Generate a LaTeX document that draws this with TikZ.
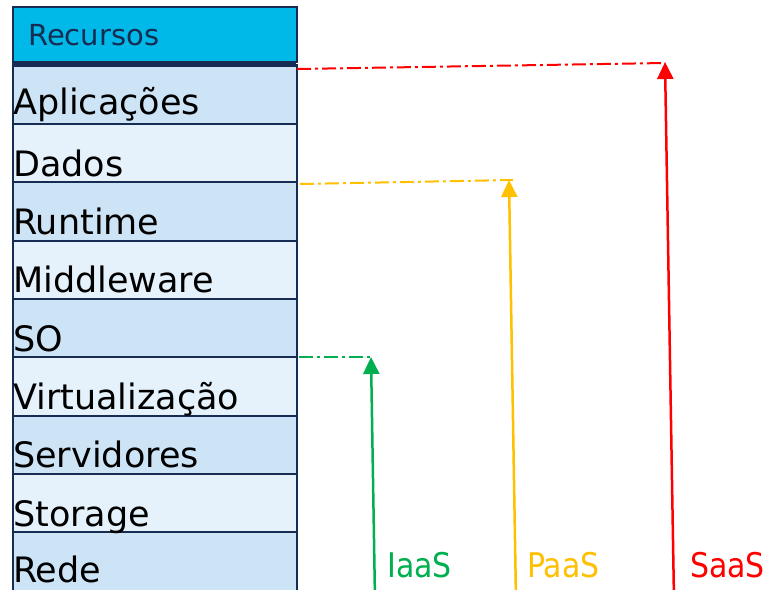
\documentclass[tikz,border=0pt]{standalone}
\usepackage{fontspec}
\setmainfont{DejaVu Sans}
\newfontfamily\labfont[FakeStretch=0.88]{DejaVu Sans}
\usetikzlibrary{arrows.meta}
\definecolor{navy}{RGB}{22,44,82}
\definecolor{hdr}{RGB}{0,185,232}
\definecolor{rowA}{RGB}{204,228,246}
\definecolor{rowB}{RGB}{229,242,251}
\definecolor{cgreen}{RGB}{0,176,80}
\definecolor{cyellow}{RGB}{255,192,0}
\definecolor{cred}{RGB}{255,0,0}
\tikzset{
  rowbox/.style={draw=navy, line width=2pt, minimum width=284pt, minimum height=58.3pt, inner sep=0pt, anchor=north west},
  rowtxt/.style={anchor=base west, inner sep=0pt, font=\fontsize{35}{40}\selectfont, text=black},
  guide/.style={line width=2pt, dash pattern=on 14pt off 4pt on 3pt off 4pt},
  upar/.style={line width=2.5pt, -{Triangle[length=17pt,width=16pt]}},
  lab/.style={anchor=base west, inner sep=0pt, font=\labfont\fontsize{34}{40}\selectfont},
}
\begin{document}
\begin{tikzpicture}[x=1pt,y=-1pt]
\useasboundingbox (0,0) rectangle (765,589);
\fill[white] (0,0) rectangle (765,589);
% header
\node[rowbox, fill=hdr, minimum height=55pt] (hd) at (12,6) {};
\node[anchor=base west, inner sep=0pt, font=\fontsize{29}{34}\selectfont, text=navy] (hdt) at (28,45) {Recursos};
% rows
\node[rowbox, fill=rowA, minimum height=59pt] (r1) at (12,64) {};
\node[rowbox, fill=rowB] (r2) at (12,123) {};
\node[rowbox, fill=rowA] (r3) at (12,181.3) {};
\node[rowbox, fill=rowB] (r4) at (12,239.6) {};
\node[rowbox, fill=rowA] (r5) at (12,297.9) {};
\node[rowbox, fill=rowB] (r6) at (12,356.2) {};
\node[rowbox, fill=rowA] (r7) at (12,414.5) {};
\node[rowbox, fill=rowB] (r8) at (12,472.8) {};
\node[rowbox, fill=rowA, minimum height=70pt] (r9) at (12,531.1) {};
% dark bar
\node[fill=navy, minimum width=284pt, minimum height=6pt, inner sep=0pt, anchor=north west] (bar) at (12,61) {};
% row texts
\node[rowtxt] (t1) at ([shift={(1,-11)}]r1.south west) {Aplicações};
\node[rowtxt] (t2) at ([shift={(1,-7)}]r2.south west) {Dados};
\node[rowtxt] (t3) at ([shift={(1,-7)}]r3.south west) {Runtime};
\node[rowtxt] (t4) at ([shift={(1,-7)}]r4.south west) {Middleware};
\node[rowtxt] (t5) at ([shift={(1,-7)}]r5.south west) {SO};
\node[rowtxt] (t6) at ([shift={(1,-7)}]r6.south west) {Virtualização};
\node[rowtxt] (t7) at ([shift={(1,-7)}]r7.south west) {Servidores};
\node[rowtxt] (t8) at ([shift={(1,-7)}]r8.south west) {Storage};
\node[rowtxt] (t9) at (13,582) {Rede};
% guide coordinates
\coordinate (gS) at (297,69);
\coordinate (gSe) at (665,63);
\coordinate (gP) at (300,184);
\coordinate (gPe) at (513,180);
\coordinate (gI) at (299,357);
\coordinate (gIe) at (371,357);
\coordinate (bS) at (674,600);
\coordinate (tS) at (665,62);
\coordinate (bP) at (516,600);
\coordinate (tP) at (509,180);
\coordinate (bI) at (375,600);
\coordinate (tI) at (371,357);
\draw[guide, cred] (gS) -- (gSe);
\draw[guide, cyellow] (gP) -- (gPe);
\draw[guide, cgreen] (gI) -- (gIe);
\draw[upar, cred] (bS) -- (tS);
\draw[upar, cyellow] (bP) -- (tP);
\draw[upar, cgreen] (bI) -- (tI);
% labels
\node[lab, text=cgreen] (li) at (387,577) {IaaS};
\node[lab, text=cyellow] (lp) at (527,577) {PaaS};
\node[lab, text=cred] (ls) at (690,577) {SaaS};
\end{tikzpicture}
\end{document}
